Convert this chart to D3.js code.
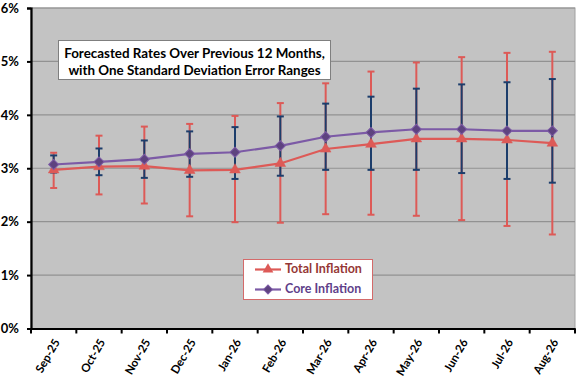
<!DOCTYPE html>
<html><head><meta charset="utf-8">
<script src="https://cdn.jsdelivr.net/npm/d3@7"></script>
<style>body{margin:0;background:#fff}svg{display:block}</style>
</head><body><svg id="c" width="576" height="384"></svg>
<script>
const categories = ["Sep-25","Oct-25","Nov-25","Dec-25","Jan-26","Feb-26","Mar-26","Apr-26","May-26","Jun-26","Jul-26","Aug-26"];
const totalValues = [2.97,3.03,3.04,2.96,2.97,3.09,3.36,3.45,3.55,3.55,3.53,3.47];
const totalHigh   = [3.29,3.61,3.78,3.83,3.98,4.22,4.59,4.81,4.98,5.08,5.16,5.18];
const totalLow    = [2.63,2.51,2.34,2.10,1.99,1.98,2.14,2.13,2.11,2.03,1.92,1.76];
const coreValues  = [3.07,3.12,3.17,3.27,3.30,3.42,3.59,3.67,3.73,3.73,3.70,3.70];
const coreHigh    = [3.24,3.37,3.52,3.69,3.77,3.97,4.21,4.34,4.49,4.57,4.61,4.67];
const coreLow     = [2.92,2.87,2.82,2.84,2.80,2.86,2.97,2.97,2.97,2.91,2.80,2.73];
const yTicks = [0,1,2,3,4,5,6];
const titleLines = ["Forecasted Rates Over Previous 12 Months,","with One Standard Deviation Error Ranges"];
const seriesNames = ["Total Inflation","Core Inflation"];

const svg = d3.select("#c");
const L = 31, R = 575, T = 8, B = 328.5;
const x = d3.scaleBand().domain(categories).range([L, R]);
const y = d3.scaleLinear().domain([0, 6]).range([B, T]);
const cx = d => x(d) + x.bandwidth()/2;
const font = "Lato, 'Noto Sans', sans-serif";

// plot area
svg.append("rect").attr("x", L).attr("y", T).attr("width", R-L).attr("height", B-T)
  .attr("fill", "#c3c3c3").attr("stroke", "#a0a0a0").attr("stroke-width", 1);
// gridlines
svg.append("g").selectAll("line").data(yTicks.slice(1)).join("line")
  .attr("x1", L).attr("x2", R).attr("y1", d=>y(d)).attr("y2", d=>y(d))
  .attr("stroke", "#929292").attr("stroke-width", 1.2);

// y axis
const yAxis = d3.axisLeft(y).tickValues(yTicks).tickFormat(d=>d+"%").tickSize(4).tickPadding(8);
const gy = svg.append("g").attr("transform", `translate(${L},0)`).call(yAxis);
gy.select(".domain").attr("stroke", "#000").attr("stroke-width", 2.2);
gy.selectAll(".tick line").attr("stroke", "#000").attr("stroke-width", 2);
gy.selectAll("text").attr("font-family", font).attr("font-weight", "bold").attr("font-size", 13).attr("fill", "#000");

// x axis
const gx = svg.append("g").attr("transform", `translate(0,${B})`)
  .call(d3.axisBottom(x).tickSize(0).tickFormat(""));
gx.select(".domain").attr("stroke", "#000").attr("stroke-width", 2.2);
const bounds = categories.map(c => x(c)).concat([R]);
gx.selectAll(".bt").data(bounds).join("line").attr("class","bt")
  .attr("x1", d=>d).attr("x2", d=>d).attr("y1", 0).attr("y2", 5)
  .attr("stroke", "#000").attr("stroke-width", 2);
svg.append("g").selectAll("text").data(categories).join("text")
  .attr("transform", d => `translate(${cx(d)+4},${B+12}) rotate(-60)`)
  .attr("text-anchor", "end").attr("dominant-baseline", "middle")
  .attr("font-family", font).attr("font-weight", "bold").attr("font-size", 11.5)
  .text(d=>d);

const red = "#dd5a57", navy = "#1c3d6b", purple = "#7c5aa6", purpleDark = "#5e437f";

function errorBars(high, low, color) {
  const g = svg.append("g");
  categories.forEach((c,i) => {
    const xx = cx(c);
    g.append("line").attr("x1", xx).attr("x2", xx).attr("y1", y(high[i])).attr("y2", y(low[i]))
      .attr("stroke", color).attr("stroke-width", 2);
    [high[i], low[i]].forEach(v => g.append("line").attr("x1", xx-3.5).attr("x2", xx+3.5)
      .attr("y1", y(v)).attr("y2", y(v)).attr("stroke", color).attr("stroke-width", 2));
  });
}
errorBars(totalHigh, totalLow, red);
errorBars(coreHigh, coreLow, navy);

const line = vals => d3.line().x((d,i)=>cx(categories[i])).y(d=>y(d))(vals);
svg.append("path").attr("d", line(totalValues)).attr("fill","none").attr("stroke", red).attr("stroke-width", 2.2);
svg.append("path").attr("d", line(coreValues)).attr("fill","none").attr("stroke", purple).attr("stroke-width", 2.2);

const tri = d3.symbol().type(d3.symbolTriangle).size(50);
svg.append("g").selectAll("path").data(totalValues).join("path")
  .attr("d", tri).attr("transform", (d,i)=>`translate(${cx(categories[i])},${y(d)})`)
  .attr("fill", red).attr("stroke", red).attr("stroke-width", 0.5);
svg.append("g").selectAll("path").data(coreValues).join("path")
  .attr("d", d3.symbol().type(d3.symbolSquare).size(50)).attr("transform", (d,i)=>`translate(${cx(categories[i])},${y(d)}) rotate(45)`)
  .attr("fill", purpleDark).attr("stroke", purple).attr("stroke-width", 1);

// title box
svg.append("rect").attr("x", 58.5).attr("y", 40.5).attr("width", 272).attr("height", 39)
  .attr("fill", "#fff").attr("stroke", "#7f7f7f").attr("stroke-width", 1);
svg.append("g").selectAll("text").data(titleLines).join("text")
  .attr("x", 194.5).attr("y", (d,i)=>57.5+i*17.5).attr("text-anchor","middle")
  .attr("font-family", font).attr("font-weight","bold").attr("font-size", 13.4).attr("fill","#000")
  .text(d=>d);

// legend
svg.append("rect").attr("x", 243.5).attr("y", 259.5).attr("width", 129).attr("height", 40)
  .attr("fill", "#fff").attr("stroke", "#d46a6a").attr("stroke-width", 1);
const lg = svg.append("g");
[[red, "#953735", tri, 0], [purple, "#5f3f8a", null, 1]].forEach(([c, tc, sym, i]) => {
  const yy = 269.5 + i*20;
  lg.append("line").attr("x1", 255).attr("x2", 281).attr("y1", yy).attr("y2", yy).attr("stroke", c).attr("stroke-width", 2.2);
  if (sym) lg.append("path").attr("d", sym).attr("transform", `translate(268,${yy})`).attr("fill", c);
  else lg.append("path").attr("d", d3.symbol().type(d3.symbolSquare).size(40)).attr("transform", `translate(268,${yy}) rotate(45)`).attr("fill", purpleDark).attr("stroke", purple);
  lg.append("text").attr("x", 285).attr("y", yy).attr("dominant-baseline","middle")
    .attr("font-family", font).attr("font-weight","bold").attr("font-size", 12.5).attr("fill", tc)
    .text(seriesNames[i]);
});
</script></body></html>
